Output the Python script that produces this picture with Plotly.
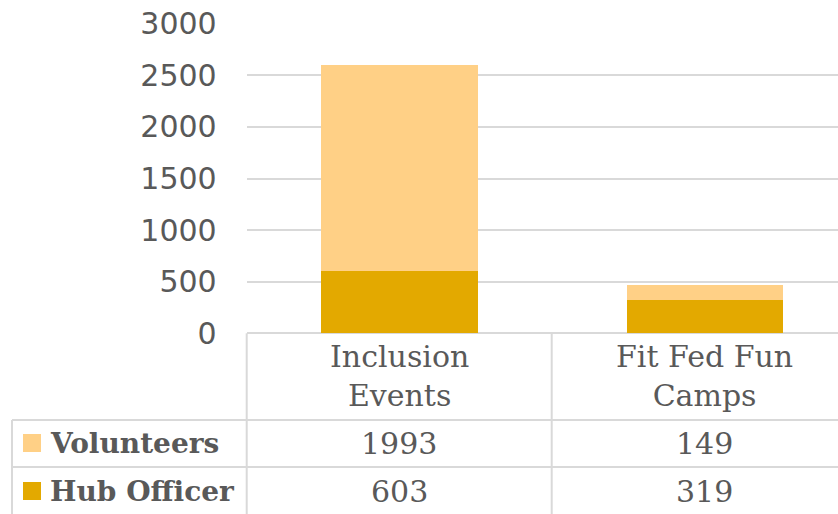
import plotly.graph_objects as go

# ---- data ----
categories = ["Inclusion Events", "Fit Fed Fun Camps"]
header_labels = ["Inclusion<br>Events", "Fit Fed Fun<br>Camps"]
series_names = ["Volunteers", "Hub Officer"]
hub_officer = [603, 319]
volunteers = [1993, 149]
y_ticks = [0, 500, 1000, 1500, 2000, 2500, 3000]

colors = {"Volunteers": "#FFD086", "Hub Officer": "#E3A900"}
text_color = "#595959"
line_color = "#D9D9D9"

W, H = 838, 514


def px(x):
    return x / W


def py(y):
    return 1 - y / H


fig = go.Figure()
fig.add_trace(go.Bar(x=categories, y=hub_officer, name="Hub Officer",
                     marker=dict(color=colors["Hub Officer"], line=dict(width=0)), width=0.5125))
fig.add_trace(go.Bar(x=categories, y=volunteers, name="Volunteers",
                     marker=dict(color=colors["Volunteers"], line=dict(width=0)), width=0.5125))

serif = "DejaVu Serif"
sans = "DejaVu Sans"

annotations = []
# column headers
for i, lab in enumerate(header_labels):
    annotations.append(dict(x=i, xref="x", y=py(376), yref="paper", text=lab, showarrow=False,
                            xanchor="center", yanchor="middle",
                            font=dict(family=serif, size=30, color=text_color)))
# table rows
row_y = {"Volunteers": 443, "Hub Officer": 491}
row_vals = {"Volunteers": volunteers, "Hub Officer": hub_officer}
shapes = []
for name in ["Volunteers", "Hub Officer"]:
    yc = row_y[name]
    annotations.append(dict(x=px(48), xref="paper", y=py(yc), yref="paper", text=f"<b>{name}</b>",
                            showarrow=False, xanchor="left", yanchor="middle",
                            font=dict(family=serif, size=28, color=text_color)))
    shapes.append(dict(type="rect", xref="paper", yref="paper",
                       x0=px(23), x1=px(41), y0=py(yc - 9), y1=py(yc + 9),
                       fillcolor=colors[name], line=dict(width=0)))
    for i, v in enumerate(row_vals[name]):
        annotations.append(dict(x=i, xref="x", y=py(yc), yref="paper", text=str(v), showarrow=False,
                                xanchor="center", yanchor="middle",
                                font=dict(family=serif, size=30, color=text_color)))

# table lines
lw = 2
for (x0, y0, x1, y1) in [
    (246.7, 333.3, 246.7, 514),
    (551.7, 333.3, 551.7, 514),
    (12, 420, 12, 514),
    (12, 420, 838, 420),
    (12, 467, 838, 467),
]:
    shapes.append(dict(type="line", xref="paper", yref="paper",
                       x0=px(x0), x1=px(x1), y0=py(y0), y1=py(y1),
                       line=dict(color=line_color, width=lw)))

fig.update_layout(
    width=W, height=H,
    margin=dict(l=0, r=0, t=0, b=0, pad=0, autoexpand=False),
    paper_bgcolor="white", plot_bgcolor="white",
    barmode="stack", showlegend=False,
    annotations=annotations, shapes=shapes,
    xaxis=dict(domain=[px(246.7), 1], range=[-0.5, -0.5 + (838 - 246.7) / 305.4],
               showticklabels=False, showgrid=False, zeroline=False, showline=False,
               type="category", automargin=False),
    yaxis=dict(domain=[py(333.3), py(23.7)], range=[0, 3000],
               tickvals=y_ticks, ticktext=[str(t) for t in y_ticks],
               showgrid=True, gridcolor=line_color, gridwidth=2,
               zeroline=True, zerolinecolor=line_color, zerolinewidth=2,
               ticks="outside", ticklen=23, tickcolor="rgba(0,0,0,0)",
               tickfont=dict(family=sans, size=30, color=text_color),
               automargin=False),
)

fig.write_html("out.html", config={"displayModeBar": False},
               post_script="document.body.style.margin='0';document.body.style.overflow='hidden';")
